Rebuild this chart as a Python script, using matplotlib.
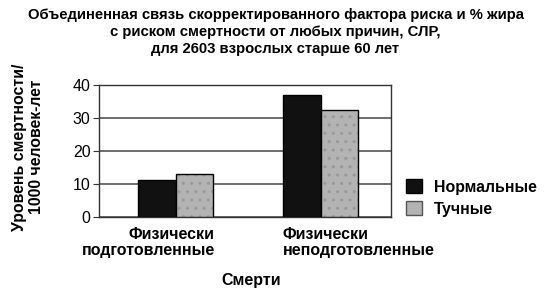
import matplotlib.pyplot as plt
import numpy as np

plt.rcParams['font.family'] = ['Liberation Sans', 'DejaVu Sans']

groups = ['Физически\nподготовленные', 'Физически\nнеподготовленные']
series = ['Нормальные', 'Тучные']
normal = [11.1, 36.9]
obese = [13.0, 32.5]
yticks = [0, 10, 20, 30, 40]

title = ('Объединенная связь скорректированного фактора риска и % жира\n'
         'с риском смертности от любых причин, СЛР,\n'
         'для 2603 взрослых старше 60 лет')

fig = plt.figure(figsize=(5.5, 2.91), dpi=100)
ax = fig.add_axes([0.18, 0.254, 0.531, 0.454])

x = np.arange(len(groups))
w = 0.26
ax.bar(x - w/2, normal, w, color='#111111', edgecolor='black', linewidth=1, zorder=3)
ax.bar(x + w/2, obese, w, color='#b3b3b3', edgecolor='#999999', hatch='..', linewidth=0, zorder=3)
ax.bar(x + w/2, obese, w, color='none', edgecolor='black', linewidth=1, zorder=4)

ax.set_xlim(-0.528, 1.486)
ax.set_ylim(0, 40)
ax.set_yticks(yticks)
ax.set_xticks([])
ax.grid(axis='y', color='#555555', linewidth=1.2, zorder=0)
for s in ax.spines.values():
    s.set_color('#333333')
    s.set_linewidth(1)
ax.tick_params(axis='y', length=4, labelsize=11.5, pad=2, color='#333333')

# подписи групп
ax.text(0.397, -0.072, groups[0], transform=ax.transAxes, ha='right', va='top',
        multialignment='right', fontsize=11.5, fontweight='bold', linespacing=1.08)
ax.text(0.630, -0.072, groups[1], transform=ax.transAxes, ha='left', va='top',
        multialignment='left', fontsize=11.5, fontweight='bold', linespacing=1.08)

fig.text(251/550, 1 - 281/291, 'Смерти', ha='center', va='center',
         fontsize=11.5, fontweight='bold')
fig.text(28/550, 1 - 147/291, 'Уровень смертности/\n1000 человек-лет', rotation=90,
         ha='center', va='center', fontsize=11.4, fontweight='bold', linespacing=1.1)

fig.text(0.501, 1 - 32/291, title, ha='center', va='center', fontsize=10.7,
         fontweight='bold', linespacing=1.24)

# легенда
leg_h = [plt.Rectangle((0, 0), 1, 1, facecolor='#111111', edgecolor='black'),
         plt.Rectangle((0, 0), 1, 1, facecolor='#b3b3b3', edgecolor='#555555')]
fig.legend(leg_h, series, loc='center left', bbox_to_anchor=(392/550, 1 - 198/291),
           frameon=False, prop={'weight': 'bold', 'size': 11.4},
           handlelength=1.0, handleheight=1.0, handletextpad=0.75, labelspacing=0.4)

fig.savefig('out.png', dpi=100)
